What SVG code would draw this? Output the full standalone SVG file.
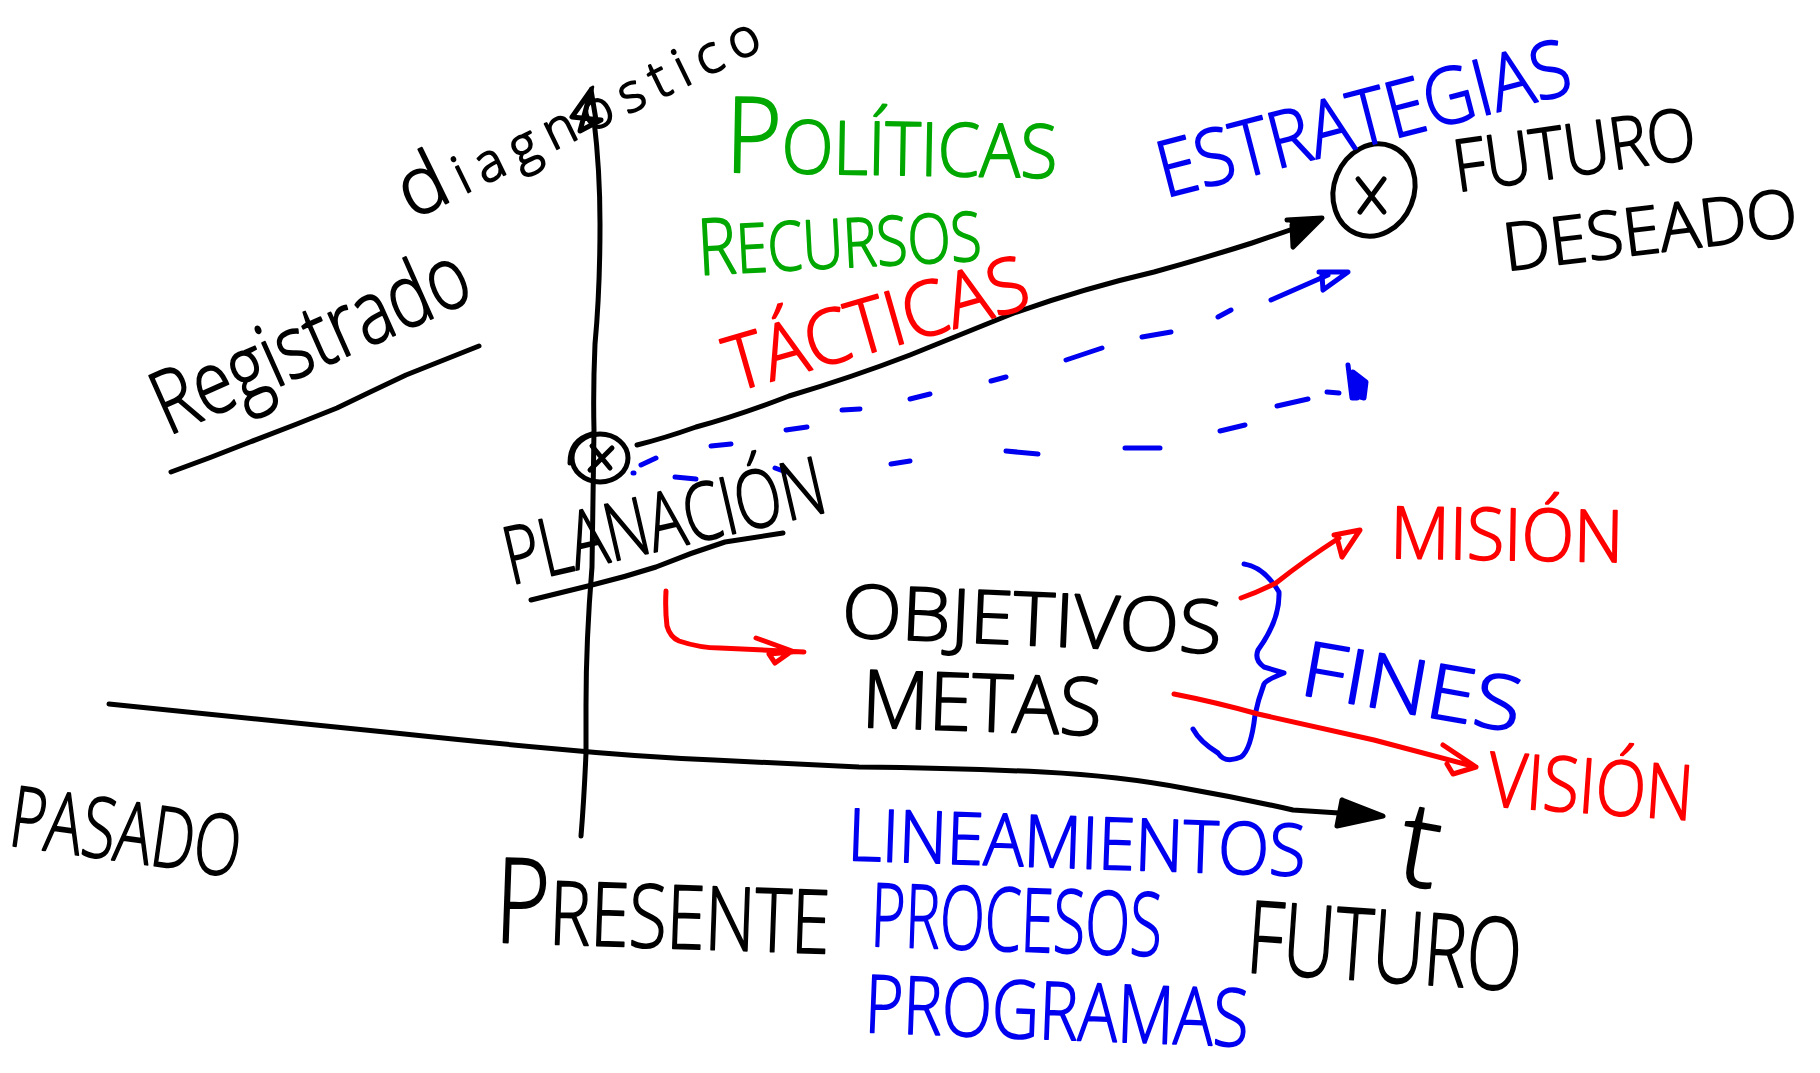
<svg xmlns="http://www.w3.org/2000/svg" width="1820" height="1073" viewBox="0 0 1820 1073">
<style>
.l{fill:none;stroke-linecap:round;stroke-linejoin:round;stroke-width:5}
.k{stroke:#000}.b{stroke:#0000f0}.r{stroke:#ff0000}
.t{font-family:"Open Sans","Liberation Sans",sans-serif;font-weight:300;stroke-width:1.8;stroke-linejoin:round}
.tk{fill:#000;stroke:#000}.tb{fill:#0000f0;stroke:#0000f0}.tr{fill:#ff0000;stroke:#ff0000}.tg{fill:#00a800;stroke:#00a800}
</style>
<rect width="1820" height="1073" fill="#fff"/>
<g id="connectors">
<path class="l k" d="M594 120Q600 170 600 224Q600 290 595 344Q593 390 594 430L592 567Q586 640 586 705L586 753Q584 800 581 836"/>
<path class="l k" d="M591 90L572 117L601 120L580 131L591 90L596 120"/>
<path class="l k" d="M109 704L395 733Q480 742 557 749Q640 757 714 760L859 767Q960 768 1043 772Q1120 776 1183 788Q1240 798 1293 810L1339 813"/>
<path class="l k" d="M1342 800L1337 826L1383 816L1342 800" style="fill:#000"/>
<path class="l k" d="M637 445Q665 438 696 427Q740 415 789 396Q850 378 910 355Q960 335 1014 313Q1085 288 1154 272Q1205 258 1252 243L1293 229"/>
<path class="l k" d="M1287 220L1322 218L1293 247L1292 225" style="fill:#000"/>
<g id="dashed-upper">
<path class="l b" d="M641 465L656 458M711 446L731 444M786 430L807 427M842 410L860 409M910 399L930 394M991 381L1006 377M1066 360L1102 348M1142 337L1171 332M1218 317L1231 310M1271 300L1328 275"/>
<path class="l b" d="M1319 272L1348 272L1323 290L1322 275"/>
</g>
<g id="dashed-lower">
<path class="l b" d="M633 473L634 473M675 477L696 479M775 468L786 472M891 464L910 461M1006 451L1038 454M1125 448L1160 448M1220 431L1245 425M1277 406L1308 399M1327 392L1339 393"/>
<path class="l b" d="M1348 365L1352 398L1357 398L1353 372L1366 382L1364 398L1357 396" style="fill:#0000f0"/>
</g>
<path class="l k" d="M171 472Q210 458 250 442Q295 425 337 408Q370 392 406 375L479 346"/>
<path class="l k" d="M531 600L592 585Q625 577 656 567Q690 553 725 542L783 533"/>
<path class="l r" d="M666 591Q665 610 667 626Q670 637 679 641Q700 648 720 648L804 652M756 638L792 651L775 663L769 654L792 652"/>
<path class="l b" d="M1244 564Q1264 567 1279 592Q1280 620 1258 650Q1254 660 1264 667L1284 673Q1266 680 1264 684Q1258 700 1255 715Q1251 750 1241 757Q1225 764 1218 753Q1200 742 1193 729"/>
<path class="l r" d="M1241 598Q1258 592 1276 583Q1305 560 1339 538M1334 535L1360 530L1342 557L1337 538"/>
<path class="l r" d="M1174 694Q1215 702 1258 714Q1315 727 1374 740L1476 767M1443 745L1476 767L1453 774L1447 764"/>
</g>
<g id="point-present">
<ellipse class="l k" cx="600" cy="458" rx="28" ry="24"/>
<path class="l k" d="M570 463Q570 440 592 434M590 470L612 448M592 446L610 468"/>
</g>
<g id="point-future">
<ellipse class="l k" cx="1374" cy="190" rx="40" ry="47" transform="rotate(22 1374 190)"/>
<path class="l k" d="M1358 179L1384 212M1384 179L1360 212"/>
</g>
<g id="label-diagnostico"><text class="t tk" font-size="53" textLength="392" lengthAdjust="spacing" transform="translate(412 220) rotate(-26)"><tspan font-size="80">d</tspan>iagnóstico</text></g>
<g id="label-registrado"><text class="t tk" font-size="88" textLength="338" lengthAdjust="spacingAndGlyphs" transform="translate(168 436) rotate(-24)">Registrado</text></g>
<g id="label-politicas"><text class="t tg" font-size="74" textLength="332" lengthAdjust="spacingAndGlyphs" transform="translate(725 172) rotate(1)"><tspan font-size="105">P</tspan>OLÍTICAS</text></g>
<g id="label-recursos"><text class="t tg" font-size="68" textLength="284" lengthAdjust="spacingAndGlyphs" transform="translate(699 275) rotate(-3)"><tspan font-size="78">R</tspan>ECURSOS</text></g>
<g id="label-tacticas"><text class="t tr" font-size="76" textLength="312" lengthAdjust="spacingAndGlyphs" transform="translate(734 392) rotate(-16)">TÁCTICAS</text></g>
<g id="label-estrategias"><text class="t tb" font-size="78" textLength="424" lengthAdjust="spacingAndGlyphs" transform="translate(1165 198) rotate(-14.5)">ESTRATEGIAS</text></g>
<g id="label-futuro-deseado">
<text class="t tk" font-size="72" textLength="244" lengthAdjust="spacingAndGlyphs" transform="translate(1457 192) rotate(-8)">FUTURO</text>
<text class="t tk" font-size="66" textLength="296" lengthAdjust="spacingAndGlyphs" transform="translate(1506 271) rotate(-7)">DESEADO</text>
</g>
<g id="label-planacion"><text class="t tk" font-size="80" textLength="327" lengthAdjust="spacingAndGlyphs" transform="translate(511 585) rotate(-13)">PLANACIÓN</text></g>
<g id="label-mision"><text class="t tr" font-size="72" textLength="233" lengthAdjust="spacingAndGlyphs" transform="translate(1390 558) rotate(1)">MISIÓN</text></g>
<g id="label-objetivos"><text class="t tk" font-size="74" textLength="380" lengthAdjust="spacingAndGlyphs" transform="translate(841 637) rotate(2.5)">OBJETIVOS</text></g>
<g id="label-metas"><text class="t tk" font-size="80" textLength="240" lengthAdjust="spacingAndGlyphs" transform="translate(861 727) rotate(2)">METAS</text></g>
<g id="label-fines"><text class="t tb" font-size="76" textLength="222" lengthAdjust="spacingAndGlyphs" transform="translate(1298 694) rotate(10)">FINES</text></g>
<g id="label-vision"><text class="t tr" font-size="76" textLength="205" lengthAdjust="spacingAndGlyphs" transform="translate(1487 806) rotate(4)">VISIÓN</text></g>
<g id="label-t"><text class="t tk" font-size="118" transform="translate(1394 882) rotate(10)">t</text></g>
<g id="label-pasado"><text class="t tk" font-size="84" textLength="232" lengthAdjust="spacingAndGlyphs" transform="translate(7 845) rotate(8)">PASADO</text></g>
<g id="label-presente"><text class="t tk" font-size="88" textLength="335" lengthAdjust="spacingAndGlyphs" transform="translate(494 942) rotate(2)"><tspan font-size="118">P</tspan>RESENTE</text></g>
<g id="label-lineamientos"><text class="t tb" font-size="72" textLength="458" lengthAdjust="spacingAndGlyphs" transform="translate(847 860) rotate(2)">LINEAMIENTOS</text></g>
<g id="label-procesos"><text class="t tb" font-size="88" textLength="291" lengthAdjust="spacingAndGlyphs" transform="translate(870 946) rotate(2)">PROCESOS</text></g>
<g id="label-programas"><text class="t tb" font-size="80" textLength="384" lengthAdjust="spacingAndGlyphs" transform="translate(864 1032) rotate(2.2)">PROGRAMAS</text></g>
<g id="label-futuro"><text class="t tk" font-size="100" textLength="275" lengthAdjust="spacingAndGlyphs" transform="translate(1245 972) rotate(4)">FUTURO</text></g>
</svg>
